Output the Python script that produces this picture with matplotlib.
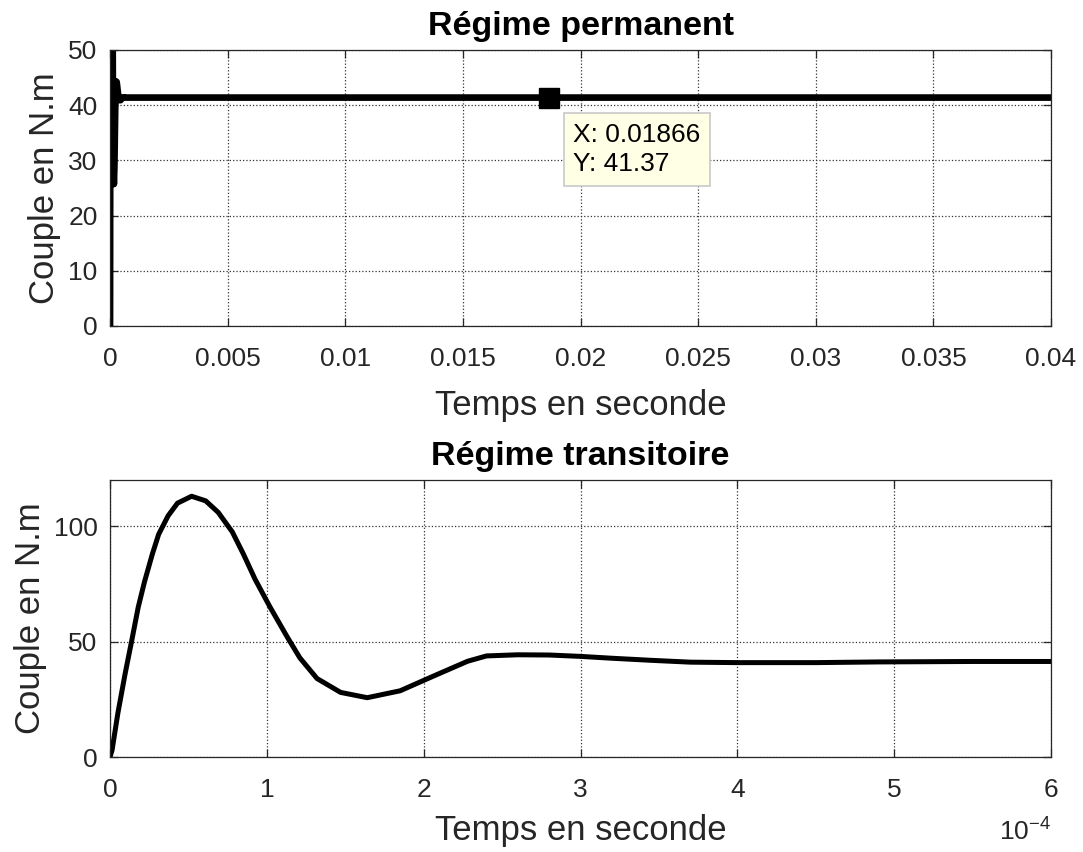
import numpy as np
import matplotlib.pyplot as plt
from matplotlib.ticker import FuncFormatter

plt.rcParams['font.family'] = ['Liberation Sans', 'DejaVu Sans']
plt.rcParams['mathtext.fontset'] = 'custom'
plt.rcParams['mathtext.rm'] = 'Liberation Sans'

# transient torque (time in units of 1e-4 s)
t_trans = [0.0, 0.013, 0.05, 0.096, 0.14, 0.18, 0.22, 0.27, 0.31, 0.37, 0.43,
           0.52, 0.61, 0.69, 0.78, 0.85, 0.925, 1.02, 1.13, 1.21, 1.32, 1.47,
           1.64, 1.85, 2.06, 2.28, 2.40, 2.6, 2.8, 3.0, 3.2, 3.45, 3.7, 4.0,
           4.5, 4.9, 5.5, 6.0]
c_trans = [0.0, 3.0, 19.0, 36.0, 51.0, 65.0, 76.0, 88.0, 96.5, 104.5, 110.0,
           113.0, 111.0, 106.0, 97.5, 88.0, 77.0, 65.0, 52.0, 43.0, 34.0, 28.0,
           25.7, 28.7, 35.0, 41.5, 43.8, 44.3, 44.2, 43.6, 42.8, 41.9, 41.1, 40.9,
           40.9, 41.2, 41.4, 41.4]

# steady state part of the upper plot
t_perm = [0.0006, 0.01866, 0.04]
c_perm = [41.37, 41.37, 41.37]

tip_x, tip_y = 0.01866, 41.37

t_tr = np.array(t_trans) * 1e-4
c_tr = np.array(c_trans)

fig = plt.figure(figsize=(10.83, 8.52), dpi=100)
ax1 = fig.add_axes([0.1016, 0.6174, 0.8689, 0.324])
ax2 = fig.add_axes([0.1016, 0.1115, 0.8689, 0.325])

axcol = '#262626'
for ax in (ax1, ax2):
    ax.grid(True, linestyle=':', color='#333333', linewidth=0.9)
    ax.tick_params(direction='in', length=6, width=0.9, colors=axcol,
                   labelsize=19, top=True, right=True,
                   labeltop=False, labelright=False)
    ax.tick_params(axis='x', pad=15)
    ax.tick_params(axis='y', pad=9)
    for s in ax.spines.values():
        s.set_color(axcol)
        s.set_linewidth(0.9)
    ax.set_axisbelow(True)

# upper plot: whole run
ax1.plot(np.concatenate([t_tr, t_perm]), np.concatenate([c_tr, c_perm]),
         color='black', lw=4.8, solid_joinstyle='round')
ax1.set_xlim(0, 0.04)
ax1.set_ylim(0, 50)
ax1.set_xticks(np.arange(0, 0.0401, 0.005))
ax1.set_xticklabels(['0', '0.005', '0.01', '0.015', '0.02', '0.025', '0.03',
                     '0.035', '0.04'])
ax1.set_yticks(np.arange(0, 51, 10))
ax1.set_title('Régime permanent', fontsize=24.5, fontweight='bold', pad=11)
ax1.set_xlabel('Temps en seconde', fontsize=25, color=axcol, labelpad=13)
ax1.set_ylabel('Couple en N.m', fontsize=25, color=axcol, labelpad=5)

# data tip
ax1.plot([tip_x], [tip_y], marker='s', ms=14, color='black', zorder=5)
ax1.annotate('X: %.5f\nY: %.2f' % (tip_x, tip_y), xy=(tip_x, tip_y),
             xytext=(24, -25), textcoords='offset pixels', ha='left', va='top',
             fontsize=19, color='black', linespacing=1.3,
             bbox=dict(boxstyle='square,pad=0.35', fc='#ffffe6', ec='#c8c8c8', lw=1.2))

# lower plot: transient zoom
ax2.plot(t_tr, c_tr, color='black', lw=3.6, solid_joinstyle='round')
ax2.set_xlim(0, 6e-4)
ax2.set_ylim(0, 120)
ax2.set_xticks(np.arange(0, 6.01e-4, 1e-4))
ax2.xaxis.set_major_formatter(FuncFormatter(lambda v, p: '%g' % round(v * 1e4, 6)))
ax2.set_yticks([0, 50, 100])
ax2.set_title('Régime transitoire', fontsize=24.5, fontweight='bold', pad=11)
ax2.set_xlabel('Temps en seconde', fontsize=25, color=axcol, labelpad=9)
ax2.set_ylabel('Couple en N.m', fontsize=25, color=axcol, labelpad=5)
ax2.text(1.0, -0.27, r'$\mathregular{10^{-4}}$', transform=ax2.transAxes,
         ha='right', va='center', fontsize=19, color=axcol)

fig.savefig('out.png', dpi=100, facecolor='white')
